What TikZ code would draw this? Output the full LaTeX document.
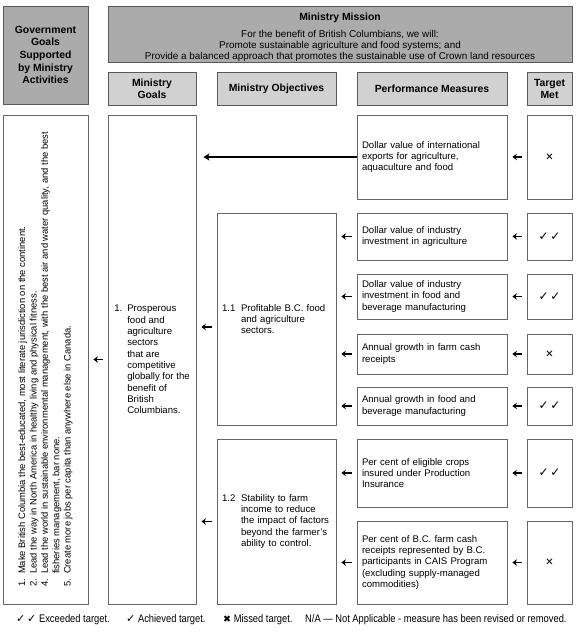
\documentclass[tikz,border=0pt]{standalone}
\usepackage{fontspec}
\setmainfont{Liberation Sans}
\newfontfamily\symfont{DejaVu Sans}
\newfontfamily\condfont[FakeStretch=0.85]{Liberation Sans}
\usetikzlibrary{arrows.meta}

\newcommand{\chk}{{\symfont\fontsize{12}{14}\selectfont ✓}}
\newcommand{\xmk}{{\symfont ✕}}
\newcommand{\num}[2]{\makebox[#1][l]{#2}}

\begin{document}
\begin{tikzpicture}[x=1pt, y=-1pt]
        \tikzstyle{dark_head} = [draw=black!65, fill=black!33, line width=0.8pt, align=center, inner sep=0pt,
                                 font=\bfseries\fontsize{10.4}{12.7}\selectfont]
        \tikzstyle{light_head} = [draw=black!65, fill=black!18, line width=0.8pt, align=center, inner sep=0pt,
                                  font=\bfseries\fontsize{10.4}{12}\selectfont, minimum height=33pt]
        \tikzstyle{body_box} = [draw=black!60, line width=0.8pt, inner xsep=5pt, inner ysep=0pt,
                                font=\fontsize{9.6}{11.3}\selectfont]
        \tikzstyle{pm_box} = [body_box, minimum width=150pt, text width=140pt, align=left]
        \tikzstyle{tm_box} = [body_box, minimum width=45pt, font=\fontsize{10}{12}\selectfont]
        \tikzstyle{small_arrow} = [draw, -{Stealth[length=4.5pt, width=6.5pt]}, line width=1.4pt, shorten <=4.5pt, shorten >=5pt]
        \tikzstyle{legend} = [anchor=west, inner sep=0pt, font=\condfont\fontsize{11}{13}\selectfont]

        \useasboundingbox (0,0) rectangle (575,636);

        % headers
        \node[dark_head, minimum width=85pt, minimum height=98pt] at (45.5, 55) (gov_head)
          {Government\\Goals\\Supported\\by Ministry\\Activities};

        \node[dark_head, minimum width=464pt, minimum height=56pt, font=\fontsize{9.9}{11}\selectfont] at (340, 34) (mission)
          {\rule{0pt}{15pt}\textbf{\fontsize{10.4}{12}\selectfont Ministry Mission}\\[6pt]
           For the benefit of British Columbians, we will:\\
           Promote sustainable agriculture and food systems; and\\
           Provide a balanced approach that promotes the sustainable use of Crown land resources};

        \node[light_head, minimum width=88pt] at (152, 88.5) (goals_head) {Ministry\\Goals};

        \node[light_head, minimum width=119pt] at (276.5, 88.5) (obj_head) {Ministry Objectives};

        \node[light_head, minimum width=150pt] at (432, 88.5) (pm_head) {Performance Measures};

        \node[light_head, minimum width=45pt] at (549.5, 88.5) (tm_head) {Target\\Met};

        % government goals, ministry goals, objectives
        \node[body_box, rotate=90, minimum width=489pt, minimum height=85pt, align=left,
              font=\fontsize{9.4}{11.4}\selectfont] at (45.5, 359.5) (gov)
          {\num{13pt}{1.}Make British Columbia the best-educated, most literate jurisdiction on the continent.\\
           \num{13pt}{2.}Lead the way in North America in healthy living and physical fitness.\\
           \num{13pt}{4.}Lead the world in sustainable environmental management, with the best air and water quality, and the best\\
           \hspace*{13pt}fisheries management, bar none.\\
           \num{13pt}{5.}Create more jobs per capita than anywhere else in Canada.};

        \node[body_box, minimum width=88pt, minimum height=489pt, inner xsep=6pt, align=left] at (152, 359.5) (goals)
          {\num{13pt}{1.}Prosperous\\ \hspace*{13pt}food and\\ \hspace*{13pt}agriculture\\ \hspace*{13pt}sectors\\
           \hspace*{13pt}that are\\ \hspace*{13pt}competitive\\ \hspace*{13pt}globally for the\\
           \hspace*{13pt}benefit of\\ \hspace*{13pt}British\\ \hspace*{13pt}Columbians.};

        \node[body_box, minimum width=119pt, minimum height=212pt, text width=109pt, align=left] at (276.5, 319) (ob11)
          {\num{19pt}{1.1}Profitable B.C. food\\ \hspace*{19pt}and agriculture\\ \hspace*{19pt}sectors.};

        \node[body_box, minimum width=119pt, minimum height=165pt, text width=109pt, align=left] at (276.5, 521.5) (ob12)
          {\num{19pt}{1.2}Stability to farm\\ \hspace*{19pt}income to reduce\\ \hspace*{19pt}the impact of factors\\
           \hspace*{19pt}beyond the farmer's\\ \hspace*{19pt}ability to control.};

        % performance measures
        \node[pm_box, minimum height=84pt] at (432, 157) (pm1)
          {Dollar value of international\\exports for agriculture,\\aquaculture and food};

        \node[pm_box, minimum height=47pt] at (432, 236.5) (pm2)
          {Dollar value of industry\\investment in agriculture};

        \node[pm_box, minimum height=45pt] at (432, 296.5) (pm3)
          {Dollar value of industry\\investment in food and\\beverage manufacturing};

        \node[pm_box, minimum height=40pt] at (432, 354) (pm4)
          {Annual growth in farm cash\\receipts};

        \node[pm_box, minimum height=38pt] at (432, 406) (pm5)
          {Annual growth in food and\\beverage manufacturing};

        \node[pm_box, minimum height=68pt] at (432, 473) (pm6)
          {Per cent of eligible crops\\insured under Production\\Insurance};

        \node[pm_box, minimum height=83pt] at (432, 562.5) (pm7)
          {Per cent of B.C. farm cash\\receipts represented by B.C.\\participants in CAIS Program\\(excluding supply-managed\\commodities)};

        % target met
        \node[tm_box, minimum height=84pt] at (549.5, 157) (tm1) {\xmk};

        \node[tm_box, minimum height=47pt] at (549.5, 236.5) (tm2) {\chk\,\chk};

        \node[tm_box, minimum height=45pt] at (549.5, 296.5) (tm3) {\chk\,\chk};

        \node[tm_box, minimum height=40pt] at (549.5, 354) (tm4) {\xmk};

        \node[tm_box, minimum height=38pt] at (549.5, 406) (tm5) {\chk\,\chk};

        \node[tm_box, minimum height=68pt] at (549.5, 473) (tm6) {\chk\,\chk};

        \node[tm_box, minimum height=83pt] at (549.5, 562.5) (tm7) {\xmk};

        % legend
        \node[legend] at (16, 620) (leg1) {{\symfont\fontsize{11}{13}\selectfont ✓\,✓}\ Exceeded target.};

        \node[legend] at (126, 620) (leg2) {{\symfont\fontsize{11}{13}\selectfont ✓}\ Achieved target.};

        \node[legend] at (223, 620) (leg3) {{\symfont\fontsize{9.5}{12}\selectfont ✖}\ Missed target.};

        \node[legend] at (305, 620) (leg4) {N/A — Not Applicable - measure has been revised or removed.};

        % connectors
        \draw[-{Stealth[length=6pt, width=7pt, inset=1.5pt]}, line width=1.5pt, shorten >=7pt]
          (pm1.west) -- (pm1.west -| goals.east);

        \path[every edge/.style={small_arrow}]
          (tm1.west) edge (pm1.east)
          (tm2.west) edge (pm2.east)
          (tm3.west) edge (pm3.east)
          (tm4.west) edge (pm4.east)
          (tm5.west) edge (pm5.east)
          (tm6.west) edge (pm6.east)
          (tm7.west) edge (pm7.east)
          (pm2.west) edge (pm2.west -| ob11.east)
          (pm3.west) edge (pm3.west -| ob11.east)
          (pm4.west) edge (pm4.west -| ob11.east)
          (pm5.west) edge (pm5.west -| ob11.east)
          (pm6.west) edge (pm6.west -| ob12.east)
          (pm7.west) edge (pm7.west -| ob12.east)
          ([yshift=-8pt]ob11.west) edge ([yshift=-8pt]ob11.west -| goals.east)
          (ob12.west) edge (ob12.west -| goals.east)
          (goals.west) edge (goals.west -| gov.south)
        ;
      \end{tikzpicture}
\end{document}
